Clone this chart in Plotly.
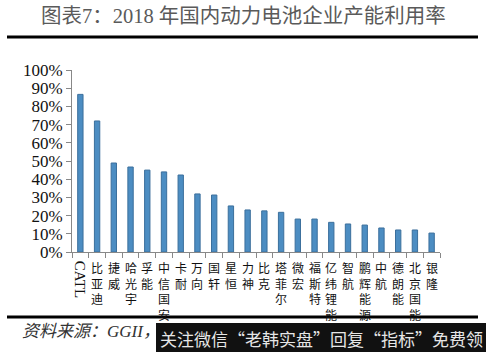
import plotly.graph_objects as go

categories = ["CATL", "比亚迪", "捷威", "哈光宇", "孚能", "中信国安", "卡耐", "万向", "国轩", "星恒", "力神",
              "比克", "塔菲尔", "微宏", "福斯特", "亿纬锂能", "智航", "鹏辉能源", "中航", "德朗能", "北京国能", "银隆"]
values = [0.866, 0.72, 0.489, 0.467, 0.45, 0.44, 0.423, 0.319, 0.313, 0.253, 0.231,
          0.226, 0.218, 0.181, 0.181, 0.163, 0.154, 0.148, 0.132, 0.121, 0.121, 0.104]
title_text = "图表7：2018 年国内动力电池企业产能利用率"
source_text = "资料来源：GGII，"
watermark_text = "关注微信“老韩实盘”回复“指标”免费领"

W, H = 486, 352
L, R, T, B = 72, 46, 70, 100
pw, ph = W - L - R, H - T - B

def px(x):
    return (x - L) / pw

def py(y):
    return (H - B - y) / ph

fig = go.Figure(go.Bar(
    x=categories, y=values, width=0.32,
    marker=dict(color="#4c8dc2", line=dict(color="#3b6f9c", width=1)),
))

annotations = []
for c in categories:
    if c == "CATL":
        annotations.append(dict(x=c, y=0, xref="x", yref="y", text="CATL", textangle=90,
                                showarrow=False, yanchor="top", yshift=-7,
                                font=dict(family="Liberation Serif", size=15, color="#111")))
    else:
        annotations.append(dict(x=c, y=0, xref="x", yref="y", text="<br>".join(list(c)),
                                showarrow=False, yanchor="top", yshift=-5,
                                font=dict(family="Noto Sans CJK SC", size=12, color="#111")))

annotations.append(dict(x=px(243), y=py(16), xref="paper", yref="paper", text=title_text,
                        showarrow=False, xanchor="center", yanchor="middle",
                        font=dict(family="Liberation Serif, Noto Sans CJK SC", size=20.5, color="#5a5a5a")))
annotations.append(dict(x=px(20), y=py(331), xref="paper", yref="paper", text="<i>" + source_text + "</i>",
                        showarrow=False, xanchor="left", yanchor="middle",
                        font=dict(family="Liberation Serif, Noto Sans CJK SC", size=17, color="#333")))
annotations.append(dict(x=px(321), y=py(338), xref="paper", yref="paper", text=watermark_text,
                        showarrow=False, xanchor="center", yanchor="middle",
                        font=dict(family="Noto Sans CJK SC", size=17, color="#e6e6e6")))

shapes = [
    dict(type="line", xref="paper", yref="paper", x0=px(7), x1=px(478), y0=py(37), y1=py(37),
         line=dict(color="#000", width=3)),
    dict(type="line", xref="paper", yref="paper", x0=px(7), x1=px(478), y0=py(317), y1=py(317),
         line=dict(color="#000", width=3)),
    dict(type="rect", xref="paper", yref="paper", x0=px(156), x1=px(486), y0=py(352), y1=py(323),
         fillcolor="#111", line=dict(width=0), layer="above"),
]

fig.update_layout(
    width=W, height=H, margin=dict(l=L, r=R, t=T, b=B),
    paper_bgcolor="white", plot_bgcolor="white",
    showlegend=False, annotations=annotations, shapes=shapes,
    bargap=0.68,
)
fig.update_yaxes(range=[0, 1.0], dtick=0.1, tickformat=".0%", showgrid=False,
                 showline=True, linecolor="#888", linewidth=1, ticks="outside", ticklen=5,
                 tickcolor="#888", zeroline=False,
                 tickfont=dict(family="Liberation Serif", size=17, color="#111"))
fig.update_xaxes(showticklabels=False, showline=True, linecolor="#888", linewidth=1,
                 ticks="outside", ticklen=5, tickcolor="#888", tickson="boundaries",
                 showgrid=False, range=[-0.5, len(categories) - 0.5])

fig.write_html("out.html")
